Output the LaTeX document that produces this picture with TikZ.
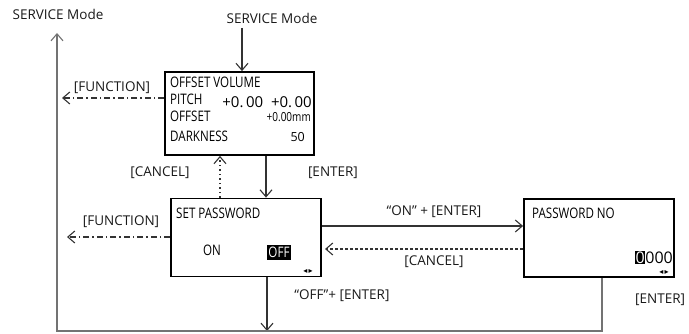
\documentclass[tikz,border=0pt]{standalone}
\usepackage{fontspec}
\setmainfont{Open Sans}
\newfontfamily\lcdfont[FakeStretch=0.8]{Open Sans}
\newfontfamily\symfont{DejaVu Sans}
\usetikzlibrary{arrows.meta,positioning}
\tikzset{
  screen/.style={rectangle, draw=black, line width=1.8pt, minimum width=150pt,
    minimum height=78pt, inner sep=0pt},
  lbl/.style={font=\fontsize{13.5}{15}\selectfont, text=black!90, inner sep=0pt},
  lcd/.style={font=\lcdfont\fontsize{14.5}{16}\selectfont, text=black,
    anchor=base west, inner sep=0pt},
  inv/.style={fill=black, text=white, inner sep=1.8pt, anchor=center},
  keys/.style={font=\symfont\fontsize{8}{9}\selectfont, inner sep=0pt},
  ar/.style={-{Straight Barb[length=7pt,width=12pt]}, line width=1.1pt, draw=black!80},
  fn/.style={ar, dash pattern=on 6pt off 3pt on 1.5pt off 3pt},
  cn/.style={ar, dash pattern=on 3pt off 2pt},
  dt/.style={ar, dash pattern=on 1.5pt off 3pt},
  back/.style={ar, draw=black!55},
}
\begin{document}
\begin{tikzpicture}[x=1pt,y=-1pt]
\useasboundingbox (0,0) rectangle (689,334);

% ---- entry points ----
\node[lbl] (sm1) at (58,14) {SERVICE Mode};
\node[lbl] (sm2) at (272,18) {SERVICE Mode};
\coordinate (in) at (242,28);

% ---- screens ----
\node[screen, minimum width=149pt, minimum height=83pt] (ov) at (239.5,113.5) {};
\node[screen] (sp) at (246,237.5) {};
\node[screen] (pn) at (599,238) {};

% OFFSET VOLUME screen
\node[lcd] (ov1) at (170,88) {OFFSET VOLUME};
\node[lcd] (ov2) at (170,105) {PITCH};
\node[lcd, anchor=base east, font=\fontsize{15}{17}\selectfont] (ov3) at (312,108) {+0.\,00\ \ +0.\,00};
\node[lcd] (ov4) at (170,122) {OFFSET};
\node[lcd, anchor=base east, font=\lcdfont\fontsize{12.5}{14}\selectfont] (ov5) at (311,122) {+0.00mm};
\node[lcd] (ov6) at (170,142) {DARKNESS};
\node[lcd, anchor=base east, font=\fontsize{12.5}{14}\selectfont] (ov7) at (305,142) {50};

% SET PASSWORD screen
\node[lcd] (sp1) at (176,219) {SET PASSWORD};
\node[lcd] (sp2) at (203,256) {ON};
\node[lcd, inv] (sp3) at (279,252.5) {OFF};
\node[keys] (sp4) at (308,271) {◂\,▸};

% PASSWORD NO screen
\node[lcd] (pn1) at (532,219) {PASSWORD NO};
\node[lcd, anchor=base east, font=\fontsize{16}{18}\selectfont] (pn2) at (673,263)
  {{\setlength\fboxsep{0.5pt}\colorbox{black}{\textcolor{white}{0}}}000};
\node[keys] (pn3) at (664,272) {◂\,▸};

% ---- connectors ----
\draw[ar] (in) -- (in |- ov.north);

\coordinate (f1) at (62,98);
\draw[fn] (ov.west |- f1) -- (f1);
\node[lbl] (f1l) at (112,88) {[FUNCTION]};

\coordinate (cx) at (220,0);
\coordinate (ex) at (266,0);
\draw[dt] (sp.north -| cx) -- (ov.south -| cx);
\draw[ar] (ov.south -| ex) -- (sp.north -| ex);
\node[lbl] (cl1) at (160,173) {[CANCEL]};
\node[lbl] (el1) at (333,173) {[ENTER]};

\coordinate (f2) at (67,237);
\draw[fn] (sp.west |- f2) -- (f2);
\node[lbl] (f2l) at (121,222) {[FUNCTION]};

\coordinate (ony) at (0,226);
\draw[ar] (sp.east |- ony) -- (pn.west |- ony);
\node[lbl] (onl) at (434,212) {``ON'' + [ENTER]};

\coordinate (cn) at (325,249);
\draw[cn] (pn.west |- cn) -- (cn);
\node[lbl] (cl2) at (434,262) {[CANCEL]};

\coordinate (ob) at (267,331);
\draw[ar] (sp.south -| ob) -- (ob);
\node[lbl] (offl) at (342,296) {``OFF''+ [ENTER]};

% back to service mode
\coordinate (rb) at (602,331);
\coordinate (lb) at (57,331);
\coordinate (top) at (57,33);
\draw[back] (pn.south -| rb) -- (rb) -- (lb) -- (top);
\node[lbl, anchor=west] (el2) at (635,300) {[ENTER]};

\end{tikzpicture}
\end{document}
